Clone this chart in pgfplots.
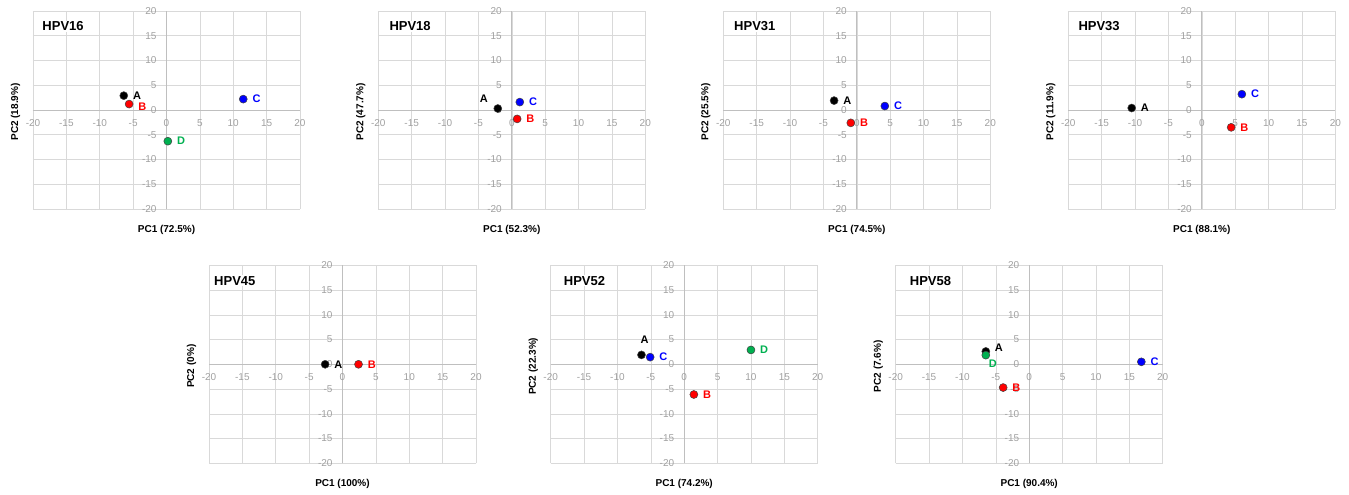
\documentclass[border=0pt]{standalone}
\usepackage{fontspec}
\setmainfont{Liberation Sans}
\usepackage{pgfplots}
\pgfplotsset{compat=1.18}
\definecolor{gridc}{HTML}{D9D9D9}
\definecolor{axc}{HTML}{BFBFBF}
\definecolor{tickc}{HTML}{A0A0A0}
\definecolor{cA}{HTML}{000000}
\definecolor{cB}{HTML}{FF0000}
\definecolor{cC}{HTML}{0000FF}
\definecolor{cD}{HTML}{00B050}
\pgfplotsset{
 pca/.style={
  width=267pt, height=198pt, scale only axis, anchor=north west,
  xmin=-20,xmax=20,ymin=-20,ymax=20,
  axis lines=middle, axis line style={draw=axc, line width=0.8pt, -},
  grid=major, grid style={draw=gridc, line width=0.6pt},
  xtick={-20,-15,...,20}, ytick={-20,-15,...,20},
  hide obscured x ticks=false, hide obscured y ticks=false,
  major tick length=0pt,
  tick label style={font=\fontsize{10}{10}\selectfont, text=tickc},
  /pgf/number format/assume math mode=true,
  xticklabel style={yshift=-6pt},
  yticklabel style={xshift=-6.5pt},
  every axis x label/.style={at={(axis description cs:0.5,-0.1035)}, anchor=center, font=\bfseries\fontsize{10}{10}\selectfont},
  every axis y label/.style={at={(axis description cs:-0.0655,0.49)}, anchor=center, rotate=90, font=\bfseries\fontsize{10}{10}\selectfont},
  clip=false,
 },
 pt/.style 2 args={only marks, mark=*, mark size=4pt,
   mark options={fill=#1, draw=black!75, line width=0.5pt},
   point meta=explicit symbolic, nodes near coords,
   every node near coord/.append style={inner sep=0pt, text=#1, font=\bfseries\fontsize{11}{11}\selectfont, #2}},
 ptr/.style={pt={#1}{anchor=west, xshift=9pt}},
}
\newcommand{\ttl}[2]{\node[anchor=west, fill=white, inner sep=1pt, xshift=#1, yshift=-15.5pt, font=\bfseries\fontsize{13}{13}\selectfont] at (rel axis cs:0,1) {#2};}
\begin{document}
\begin{tikzpicture}
\path[use as bounding box] (0,0) rectangle (1349pt,-495pt);
% HPV16
\begin{axis}[pca, at={(33pt,-11pt)}, xlabel={PC1 (72.5\%)}, ylabel={PC2 (18.9\%)}]
\addplot[ptr=cA] coordinates {(-6.4,2.9) [A]};
\addplot[pt={cB}{anchor=west, xshift=9pt, yshift=-3pt}] coordinates {(-5.6,1.2) [B]};
\addplot[ptr=cC] coordinates {(11.5,2.2) [C]};
\addplot[ptr=cD] coordinates {(0.2,-6.3) [D]};
\ttl{8.3pt}{HPV16}
\end{axis}
% HPV18
\begin{axis}[pca, at={(378.3pt,-11pt)}, xlabel={PC1 (52.3\%)}, ylabel={PC2 (47.7\%)}]
\addplot[pt={cA}{anchor=center, xshift=-14pt, yshift=10pt}] coordinates {(-2.1,0.3) [A]};
\addplot[ptr=cB] coordinates {(0.8,-1.8) [B]};
\addplot[ptr=cC] coordinates {(1.2,1.6) [C]};
\ttl{10pt}{HPV18}
\end{axis}
% HPV31
\begin{axis}[pca, at={(723.3pt,-11pt)}, xlabel={PC1 (74.5\%)}, ylabel={PC2 (25.5\%)}]
\addplot[ptr=cA] coordinates {(-3.4,1.9) [A]};
\addplot[ptr=cB] coordinates {(-0.9,-2.6) [B]};
\addplot[ptr=cC] coordinates {(4.2,0.8) [C]};
\ttl{9.7pt}{HPV31}
\end{axis}
% HPV33
\begin{axis}[pca, at={(1068.3pt,-11pt)}, xlabel={PC1 (88.1\%)}, ylabel={PC2 (11.9\%)}]
\addplot[ptr=cA] coordinates {(-10.5,0.4) [A]};
\addplot[ptr=cB] coordinates {(4.4,-3.5) [B]};
\addplot[ptr=cC] coordinates {(6.0,3.2) [C]};
\ttl{9pt}{HPV33}
\end{axis}
% HPV45
\begin{axis}[pca, at={(209pt,-265.3pt)}, xlabel={PC1 (100\%)}, ylabel={PC2 (0\%)}]
\addplot[ptr=cA] coordinates {(-2.6,0) [A]};
\addplot[ptr=cB] coordinates {(2.4,0) [B]};
\ttl{4pt}{HPV45}
\end{axis}
% HPV52
\begin{axis}[pca, at={(550.7pt,-265.3pt)}, xlabel={PC1 (74.2\%)}, ylabel={PC2 (22.3\%)}]
\addplot[pt={cA}{anchor=center, xshift=3pt, yshift=15pt}] coordinates {(-6.4,1.9) [A]};
\addplot[ptr=cC] coordinates {(-5.1,1.45) [C]};
\addplot[ptr=cB] coordinates {(1.45,-6.1) [B]};
\addplot[ptr=cD] coordinates {(10.0,2.9) [D]};
\ttl{12pt}{HPV52}
\end{axis}
% HPV58
\begin{axis}[pca, at={(895.7pt,-265.3pt)}, xlabel={PC1 (90.4\%)}, ylabel={PC2 (7.6\%)}]
\addplot[pt={cA}{anchor=center, xshift=13pt, yshift=4pt}] coordinates {(-6.5,2.6) [A]};
\addplot[pt={cD}{anchor=center, xshift=7pt, yshift=-9pt}] coordinates {(-6.5,1.85) [D]};
\addplot[ptr=cB] coordinates {(-3.9,-4.7) [B]};
\addplot[ptr=cC] coordinates {(16.8,0.5) [C]};
\ttl{13pt}{HPV58}
\end{axis}
\end{tikzpicture}
\end{document}
